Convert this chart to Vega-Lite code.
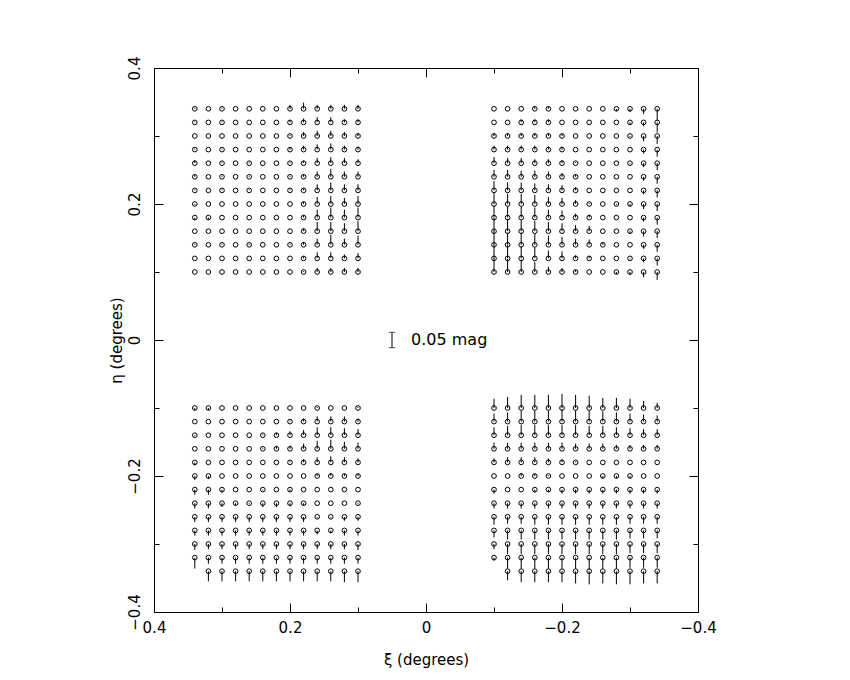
{
"$schema": "https://vega.github.io/schema/vega-lite/v6.json",
"width": 544, "height": 544,
"autosize": "none",
"padding": {"left": 154, "top": 68, "right": 152, "bottom": 68},
"background": "white",
"config": {
  "view": {"stroke": "black", "strokeWidth": 1},
  "font": "DejaVu Sans",
  "axis": {"domain": false, "grid": false, "tickColor": "black", "tickWidth": 1, "labelColor": "black", "titleColor": "black", "labelFont": "DejaVu Sans", "labelFontSize": 15, "titleFont": "DejaVu Sans", "titleFontSize": 15, "titleFontWeight": "normal", "labelOverlap": false, "labelFlush": false}
},
"datasets": {
"vec": [
{"xi":0.34,"eta":0.34,"dm":0.003},{"xi":0.32,"eta":0.34,"dm":0},{"xi":0.30,"eta":0.34,"dm":0.003},{"xi":0.28,"eta":0.34,"dm":0},{"xi":0.26,"eta":0.34,"dm":0},{"xi":0.24,"eta":0.34,"dm":0},{"xi":0.22,"eta":0.34,"dm":0},{"xi":0.20,"eta":0.34,"dm":0.013},{"xi":0.18,"eta":0.34,"dm":0.02},{"xi":0.16,"eta":0.34,"dm":0.013},{"xi":0.14,"eta":0.34,"dm":0.013},{"xi":0.12,"eta":0.34,"dm":0.013},{"xi":0.10,"eta":0.34,"dm":0.013},
{"xi":0.34,"eta":0.32,"dm":0.003},{"xi":0.32,"eta":0.32,"dm":0},{"xi":0.30,"eta":0.32,"dm":0.003},{"xi":0.28,"eta":0.32,"dm":0},{"xi":0.26,"eta":0.32,"dm":0},{"xi":0.24,"eta":0.32,"dm":0},{"xi":0.22,"eta":0.32,"dm":0},{"xi":0.20,"eta":0.32,"dm":0.007},{"xi":0.18,"eta":0.32,"dm":0.013},{"xi":0.16,"eta":0.32,"dm":0.017},{"xi":0.14,"eta":0.32,"dm":0.017},{"xi":0.12,"eta":0.32,"dm":0.01},{"xi":0.10,"eta":0.32,"dm":0.01},
{"xi":0.34,"eta":0.30,"dm":0},{"xi":0.32,"eta":0.30,"dm":0},{"xi":0.30,"eta":0.30,"dm":0},{"xi":0.28,"eta":0.30,"dm":0},{"xi":0.26,"eta":0.30,"dm":0},{"xi":0.24,"eta":0.30,"dm":0},{"xi":0.22,"eta":0.30,"dm":0},{"xi":0.20,"eta":0.30,"dm":0.003},{"xi":0.18,"eta":0.30,"dm":0.013},{"xi":0.16,"eta":0.30,"dm":0.017},{"xi":0.14,"eta":0.30,"dm":0.017},{"xi":0.12,"eta":0.30,"dm":0.013},{"xi":0.10,"eta":0.30,"dm":0.01},
{"xi":0.34,"eta":0.28,"dm":0.003},{"xi":0.32,"eta":0.28,"dm":0},{"xi":0.30,"eta":0.28,"dm":0.003},{"xi":0.28,"eta":0.28,"dm":0},{"xi":0.26,"eta":0.28,"dm":0},{"xi":0.24,"eta":0.28,"dm":0},{"xi":0.22,"eta":0.28,"dm":0},{"xi":0.20,"eta":0.28,"dm":0.007},{"xi":0.18,"eta":0.28,"dm":0.013},{"xi":0.16,"eta":0.28,"dm":0.017},{"xi":0.14,"eta":0.28,"dm":0.02},{"xi":0.12,"eta":0.28,"dm":0.013},{"xi":0.10,"eta":0.28,"dm":0.01},
{"xi":0.34,"eta":0.26,"dm":0.01},{"xi":0.32,"eta":0.26,"dm":0},{"xi":0.30,"eta":0.26,"dm":0.003},{"xi":0.28,"eta":0.26,"dm":0},{"xi":0.26,"eta":0.26,"dm":0.003},{"xi":0.24,"eta":0.26,"dm":0},{"xi":0.22,"eta":0.26,"dm":0},{"xi":0.20,"eta":0.26,"dm":0.003},{"xi":0.18,"eta":0.26,"dm":0.007},{"xi":0.16,"eta":0.26,"dm":0.017},{"xi":0.14,"eta":0.26,"dm":0.02},{"xi":0.12,"eta":0.26,"dm":0.017},{"xi":0.10,"eta":0.26,"dm":0.013},
{"xi":0.34,"eta":0.24,"dm":0.007},{"xi":0.32,"eta":0.24,"dm":0},{"xi":0.30,"eta":0.24,"dm":0.003},{"xi":0.28,"eta":0.24,"dm":0},{"xi":0.26,"eta":0.24,"dm":0.003},{"xi":0.24,"eta":0.24,"dm":0},{"xi":0.22,"eta":0.24,"dm":0},{"xi":0.20,"eta":0.24,"dm":0.003},{"xi":0.18,"eta":0.24,"dm":0.007},{"xi":0.16,"eta":0.24,"dm":0.017},{"xi":0.14,"eta":0.24,"dm":0.026},{"xi":0.12,"eta":0.24,"dm":0.017},{"xi":0.10,"eta":0.24,"dm":0.017},
{"xi":0.34,"eta":0.22,"dm":0.003},{"xi":0.32,"eta":0.22,"dm":0},{"xi":0.30,"eta":0.22,"dm":0.003},{"xi":0.28,"eta":0.22,"dm":0},{"xi":0.26,"eta":0.22,"dm":0.003},{"xi":0.24,"eta":0.22,"dm":0},{"xi":0.22,"eta":0.22,"dm":0},{"xi":0.20,"eta":0.22,"dm":0.003},{"xi":0.18,"eta":0.22,"dm":0.007},{"xi":0.16,"eta":0.22,"dm":0.02},{"xi":0.14,"eta":0.22,"dm":0.026},{"xi":0.12,"eta":0.22,"dm":0.02},{"xi":0.10,"eta":0.22,"dm":0.02},
{"xi":0.34,"eta":0.20,"dm":-0.003},{"xi":0.32,"eta":0.20,"dm":0},{"xi":0.30,"eta":0.20,"dm":0},{"xi":0.28,"eta":0.20,"dm":0},{"xi":0.26,"eta":0.20,"dm":0},{"xi":0.24,"eta":0.20,"dm":0},{"xi":0.22,"eta":0.20,"dm":0},{"xi":0.20,"eta":0.20,"dm":0},{"xi":0.18,"eta":0.20,"dm":0.007},{"xi":0.16,"eta":0.20,"dm":0.023},{"xi":0.14,"eta":0.20,"dm":0.026},{"xi":0.12,"eta":0.20,"dm":0.02},{"xi":0.10,"eta":0.20,"dm":0.026},
{"xi":0.34,"eta":0.18,"dm":-0.007},{"xi":0.32,"eta":0.18,"dm":-0.007},{"xi":0.30,"eta":0.18,"dm":0},{"xi":0.28,"eta":0.18,"dm":0},{"xi":0.26,"eta":0.18,"dm":0},{"xi":0.24,"eta":0.18,"dm":0},{"xi":0.22,"eta":0.18,"dm":0},{"xi":0.20,"eta":0.18,"dm":0},{"xi":0.18,"eta":0.18,"dm":0.007},{"xi":0.16,"eta":0.18,"dm":0.026},{"xi":0.14,"eta":0.18,"dm":0.033},{"xi":0.12,"eta":0.18,"dm":0.026},{"xi":0.10,"eta":0.18,"dm":0.033},
{"xi":0.34,"eta":0.16,"dm":0},{"xi":0.32,"eta":0.16,"dm":0},{"xi":0.30,"eta":0.16,"dm":0},{"xi":0.28,"eta":0.16,"dm":0},{"xi":0.26,"eta":0.16,"dm":0},{"xi":0.24,"eta":0.16,"dm":0},{"xi":0.22,"eta":0.16,"dm":0},{"xi":0.20,"eta":0.16,"dm":0},{"xi":0.18,"eta":0.16,"dm":0.01},{"xi":0.16,"eta":0.16,"dm":0.03},{"xi":0.14,"eta":0.16,"dm":0.03},{"xi":0.12,"eta":0.16,"dm":0.026},{"xi":0.10,"eta":0.16,"dm":0.033},
{"xi":0.34,"eta":0.14,"dm":0.003},{"xi":0.32,"eta":0.14,"dm":0},{"xi":0.30,"eta":0.14,"dm":0.003},{"xi":0.28,"eta":0.14,"dm":0},{"xi":0.26,"eta":0.14,"dm":0.003},{"xi":0.24,"eta":0.14,"dm":0},{"xi":0.22,"eta":0.14,"dm":0},{"xi":0.20,"eta":0.14,"dm":0.003},{"xi":0.18,"eta":0.14,"dm":0.01},{"xi":0.16,"eta":0.14,"dm":0.02},{"xi":0.14,"eta":0.14,"dm":0.033},{"xi":0.12,"eta":0.14,"dm":0.02},{"xi":0.10,"eta":0.14,"dm":0.03},
{"xi":0.34,"eta":0.12,"dm":0},{"xi":0.32,"eta":0.12,"dm":0},{"xi":0.30,"eta":0.12,"dm":0},{"xi":0.28,"eta":0.12,"dm":0},{"xi":0.26,"eta":0.12,"dm":0},{"xi":0.24,"eta":0.12,"dm":0},{"xi":0.22,"eta":0.12,"dm":0},{"xi":0.20,"eta":0.12,"dm":0},{"xi":0.18,"eta":0.12,"dm":0.007},{"xi":0.16,"eta":0.12,"dm":0.02},{"xi":0.14,"eta":0.12,"dm":0.02},{"xi":0.12,"eta":0.12,"dm":0.013},{"xi":0.10,"eta":0.12,"dm":0.017},
{"xi":0.34,"eta":0.10,"dm":0},{"xi":0.32,"eta":0.10,"dm":0},{"xi":0.30,"eta":0.10,"dm":0},{"xi":0.28,"eta":0.10,"dm":0},{"xi":0.26,"eta":0.10,"dm":0},{"xi":0.24,"eta":0.10,"dm":0},{"xi":0.22,"eta":0.10,"dm":0},{"xi":0.20,"eta":0.10,"dm":0},{"xi":0.18,"eta":0.10,"dm":0.003},{"xi":0.16,"eta":0.10,"dm":0.013},{"xi":0.14,"eta":0.10,"dm":0.013},{"xi":0.12,"eta":0.10,"dm":0.013},{"xi":0.10,"eta":0.10,"dm":0.013},

{"xi":-0.10,"eta":0.34,"dm":0},{"xi":-0.12,"eta":0.34,"dm":0},{"xi":-0.14,"eta":0.34,"dm":0},{"xi":-0.16,"eta":0.34,"dm":0.007},{"xi":-0.18,"eta":0.34,"dm":0.007},{"xi":-0.20,"eta":0.34,"dm":0},{"xi":-0.22,"eta":0.34,"dm":0},{"xi":-0.24,"eta":0.34,"dm":0},{"xi":-0.26,"eta":0.34,"dm":0},{"xi":-0.28,"eta":0.34,"dm":-0.007},{"xi":-0.30,"eta":0.34,"dm":-0.01},{"xi":-0.32,"eta":0.34,"dm":-0.017},{"xi":-0.34,"eta":0.34,"dm":-0.04},
{"xi":-0.10,"eta":0.32,"dm":0},{"xi":-0.12,"eta":0.32,"dm":0},{"xi":-0.14,"eta":0.32,"dm":0.01},{"xi":-0.16,"eta":0.32,"dm":0.01},{"xi":-0.18,"eta":0.32,"dm":0.01},{"xi":-0.20,"eta":0.32,"dm":0},{"xi":-0.22,"eta":0.32,"dm":0},{"xi":-0.24,"eta":0.32,"dm":0},{"xi":-0.26,"eta":0.32,"dm":0},{"xi":-0.28,"eta":0.32,"dm":0},{"xi":-0.30,"eta":0.32,"dm":-0.007},{"xi":-0.32,"eta":0.32,"dm":-0.013},{"xi":-0.34,"eta":0.32,"dm":-0.033},
{"xi":-0.10,"eta":0.30,"dm":0.01},{"xi":-0.12,"eta":0.30,"dm":0.01},{"xi":-0.14,"eta":0.30,"dm":0.01},{"xi":-0.16,"eta":0.30,"dm":0.01},{"xi":-0.18,"eta":0.30,"dm":0.01},{"xi":-0.20,"eta":0.30,"dm":0.007},{"xi":-0.22,"eta":0.30,"dm":0},{"xi":-0.24,"eta":0.30,"dm":0},{"xi":-0.26,"eta":0.30,"dm":0},{"xi":-0.28,"eta":0.30,"dm":0},{"xi":-0.30,"eta":0.30,"dm":-0.003},{"xi":-0.32,"eta":0.30,"dm":-0.017},{"xi":-0.34,"eta":0.30,"dm":-0.026},
{"xi":-0.10,"eta":0.28,"dm":0.013},{"xi":-0.12,"eta":0.28,"dm":0.013},{"xi":-0.14,"eta":0.28,"dm":0.013},{"xi":-0.16,"eta":0.28,"dm":0.013},{"xi":-0.18,"eta":0.28,"dm":0.01},{"xi":-0.20,"eta":0.28,"dm":0.01},{"xi":-0.22,"eta":0.28,"dm":0},{"xi":-0.24,"eta":0.28,"dm":0},{"xi":-0.26,"eta":0.28,"dm":0},{"xi":-0.28,"eta":0.28,"dm":0},{"xi":-0.30,"eta":0.28,"dm":0},{"xi":-0.32,"eta":0.28,"dm":-0.013},{"xi":-0.34,"eta":0.28,"dm":-0.023},
{"xi":-0.10,"eta":0.26,"dm":0.02},{"xi":-0.12,"eta":0.26,"dm":0.017},{"xi":-0.14,"eta":0.26,"dm":0.017},{"xi":-0.16,"eta":0.26,"dm":0.013},{"xi":-0.18,"eta":0.26,"dm":0.013},{"xi":-0.20,"eta":0.26,"dm":0.01},{"xi":-0.22,"eta":0.26,"dm":0.003},{"xi":-0.24,"eta":0.26,"dm":0},{"xi":-0.26,"eta":0.26,"dm":0},{"xi":-0.28,"eta":0.26,"dm":0},{"xi":-0.30,"eta":0.26,"dm":-0.003},{"xi":-0.32,"eta":0.26,"dm":-0.013},{"xi":-0.34,"eta":0.26,"dm":-0.023},
{"xi":-0.10,"eta":0.24,"dm":0.023},{"xi":-0.12,"eta":0.24,"dm":0.023},{"xi":-0.14,"eta":0.24,"dm":0.02},{"xi":-0.16,"eta":0.24,"dm":0.02},{"xi":-0.18,"eta":0.24,"dm":0.017},{"xi":-0.20,"eta":0.24,"dm":0.013},{"xi":-0.22,"eta":0.24,"dm":0.007},{"xi":-0.24,"eta":0.24,"dm":0},{"xi":-0.26,"eta":0.24,"dm":0},{"xi":-0.28,"eta":0.24,"dm":0},{"xi":-0.30,"eta":0.24,"dm":0},{"xi":-0.32,"eta":0.24,"dm":-0.013},{"xi":-0.34,"eta":0.24,"dm":-0.023},
{"xi":-0.10,"eta":0.22,"dm":0.03},{"xi":-0.12,"eta":0.22,"dm":0.026},{"xi":-0.14,"eta":0.22,"dm":0.026},{"xi":-0.16,"eta":0.22,"dm":0.023},{"xi":-0.18,"eta":0.22,"dm":0.02},{"xi":-0.20,"eta":0.22,"dm":0.017},{"xi":-0.22,"eta":0.22,"dm":0.01},{"xi":-0.24,"eta":0.22,"dm":0},{"xi":-0.26,"eta":0.22,"dm":0},{"xi":-0.28,"eta":0.22,"dm":0},{"xi":-0.30,"eta":0.22,"dm":0},{"xi":-0.32,"eta":0.22,"dm":-0.013},{"xi":-0.34,"eta":0.22,"dm":-0.023},
{"xi":-0.10,"eta":0.20,"dm":0.036},{"xi":-0.12,"eta":0.20,"dm":0.033},{"xi":-0.14,"eta":0.20,"dm":0.033},{"xi":-0.16,"eta":0.20,"dm":0.03},{"xi":-0.18,"eta":0.20,"dm":0.023},{"xi":-0.20,"eta":0.20,"dm":0.02},{"xi":-0.22,"eta":0.20,"dm":0.013},{"xi":-0.24,"eta":0.20,"dm":0.003},{"xi":-0.26,"eta":0.20,"dm":0},{"xi":-0.28,"eta":0.20,"dm":-0.003},{"xi":-0.30,"eta":0.20,"dm":-0.007},{"xi":-0.32,"eta":0.20,"dm":-0.017},{"xi":-0.34,"eta":0.20,"dm":-0.023},
{"xi":-0.10,"eta":0.18,"dm":0.04},{"xi":-0.12,"eta":0.18,"dm":0.036},{"xi":-0.14,"eta":0.18,"dm":0.036},{"xi":-0.16,"eta":0.18,"dm":0.033},{"xi":-0.18,"eta":0.18,"dm":0.026},{"xi":-0.20,"eta":0.18,"dm":0.023},{"xi":-0.22,"eta":0.18,"dm":0.013},{"xi":-0.24,"eta":0.18,"dm":0.01},{"xi":-0.26,"eta":0.18,"dm":0},{"xi":-0.28,"eta":0.18,"dm":0},{"xi":-0.30,"eta":0.18,"dm":0},{"xi":-0.32,"eta":0.18,"dm":-0.013},{"xi":-0.34,"eta":0.18,"dm":-0.023},
{"xi":-0.10,"eta":0.16,"dm":0.043},{"xi":-0.12,"eta":0.16,"dm":0.04},{"xi":-0.14,"eta":0.16,"dm":0.036},{"xi":-0.16,"eta":0.16,"dm":0.033},{"xi":-0.18,"eta":0.16,"dm":0.03},{"xi":-0.20,"eta":0.16,"dm":0.026},{"xi":-0.22,"eta":0.16,"dm":0.02},{"xi":-0.24,"eta":0.16,"dm":0.017},{"xi":-0.26,"eta":0.16,"dm":0},{"xi":-0.28,"eta":0.16,"dm":0},{"xi":-0.30,"eta":0.16,"dm":-0.007},{"xi":-0.32,"eta":0.16,"dm":-0.017},{"xi":-0.34,"eta":0.16,"dm":-0.023},
{"xi":-0.10,"eta":0.14,"dm":0.046},{"xi":-0.12,"eta":0.14,"dm":0.04},{"xi":-0.14,"eta":0.14,"dm":0.04},{"xi":-0.16,"eta":0.14,"dm":0.036},{"xi":-0.18,"eta":0.14,"dm":0.03},{"xi":-0.20,"eta":0.14,"dm":0.026},{"xi":-0.22,"eta":0.14,"dm":0.02},{"xi":-0.24,"eta":0.14,"dm":0.017},{"xi":-0.26,"eta":0.14,"dm":0.007},{"xi":-0.28,"eta":0.14,"dm":0},{"xi":-0.30,"eta":0.14,"dm":0},{"xi":-0.32,"eta":0.14,"dm":-0.013},{"xi":-0.34,"eta":0.14,"dm":-0.023},
{"xi":-0.10,"eta":0.12,"dm":0.046},{"xi":-0.12,"eta":0.12,"dm":0.043},{"xi":-0.14,"eta":0.12,"dm":0.04},{"xi":-0.16,"eta":0.12,"dm":0.036},{"xi":-0.18,"eta":0.12,"dm":0.026},{"xi":-0.20,"eta":0.12,"dm":0.023},{"xi":-0.22,"eta":0.12,"dm":0.01},{"xi":-0.24,"eta":0.12,"dm":0.007},{"xi":-0.26,"eta":0.12,"dm":0},{"xi":-0.28,"eta":0.12,"dm":0},{"xi":-0.30,"eta":0.12,"dm":-0.003},{"xi":-0.32,"eta":0.12,"dm":-0.013},{"xi":-0.34,"eta":0.12,"dm":-0.023},
{"xi":-0.10,"eta":0.10,"dm":0.046},{"xi":-0.12,"eta":0.10,"dm":0.043},{"xi":-0.14,"eta":0.10,"dm":0.04},{"xi":-0.16,"eta":0.10,"dm":0.033},{"xi":-0.18,"eta":0.10,"dm":0.017},{"xi":-0.20,"eta":0.10,"dm":0.013},{"xi":-0.22,"eta":0.10,"dm":0.007},{"xi":-0.24,"eta":0.10,"dm":0},{"xi":-0.26,"eta":0.10,"dm":0},{"xi":-0.28,"eta":0.10,"dm":-0.007},{"xi":-0.30,"eta":0.10,"dm":-0.01},{"xi":-0.32,"eta":0.10,"dm":-0.017},{"xi":-0.34,"eta":0.10,"dm":-0.026},

{"xi":0.34,"eta":-0.10,"dm":-0.007},{"xi":0.32,"eta":-0.10,"dm":-0.007},{"xi":0.30,"eta":-0.10,"dm":0},{"xi":0.28,"eta":-0.10,"dm":0},{"xi":0.26,"eta":-0.10,"dm":0},{"xi":0.24,"eta":-0.10,"dm":0},{"xi":0.22,"eta":-0.10,"dm":0},{"xi":0.20,"eta":-0.10,"dm":0},{"xi":0.18,"eta":-0.10,"dm":0},{"xi":0.16,"eta":-0.10,"dm":0.003},{"xi":0.14,"eta":-0.10,"dm":0},{"xi":0.12,"eta":-0.10,"dm":0},{"xi":0.10,"eta":-0.10,"dm":0.003},
{"xi":0.34,"eta":-0.12,"dm":0},{"xi":0.32,"eta":-0.12,"dm":0},{"xi":0.30,"eta":-0.12,"dm":0},{"xi":0.28,"eta":-0.12,"dm":0},{"xi":0.26,"eta":-0.12,"dm":0},{"xi":0.24,"eta":-0.12,"dm":0},{"xi":0.22,"eta":-0.12,"dm":0},{"xi":0.20,"eta":-0.12,"dm":0.003},{"xi":0.18,"eta":-0.12,"dm":0.01},{"xi":0.16,"eta":-0.12,"dm":0.017},{"xi":0.14,"eta":-0.12,"dm":0.017},{"xi":0.12,"eta":-0.12,"dm":0.017},{"xi":0.10,"eta":-0.12,"dm":0.01},
{"xi":0.34,"eta":-0.14,"dm":-0.003},{"xi":0.32,"eta":-0.14,"dm":0},{"xi":0.30,"eta":-0.14,"dm":0},{"xi":0.28,"eta":-0.14,"dm":0},{"xi":0.26,"eta":-0.14,"dm":0},{"xi":0.24,"eta":-0.14,"dm":0.003},{"xi":0.22,"eta":-0.14,"dm":0.007},{"xi":0.20,"eta":-0.14,"dm":0.013},{"xi":0.18,"eta":-0.14,"dm":0.017},{"xi":0.16,"eta":-0.14,"dm":0.026},{"xi":0.14,"eta":-0.14,"dm":0.026},{"xi":0.12,"eta":-0.14,"dm":0.023},{"xi":0.10,"eta":-0.14,"dm":0.02},
{"xi":0.34,"eta":-0.16,"dm":0},{"xi":0.32,"eta":-0.16,"dm":0},{"xi":0.30,"eta":-0.16,"dm":0},{"xi":0.28,"eta":-0.16,"dm":0},{"xi":0.26,"eta":-0.16,"dm":0},{"xi":0.24,"eta":-0.16,"dm":0.003},{"xi":0.22,"eta":-0.16,"dm":0.01},{"xi":0.20,"eta":-0.16,"dm":0.01},{"xi":0.18,"eta":-0.16,"dm":0.017},{"xi":0.16,"eta":-0.16,"dm":0.026},{"xi":0.14,"eta":-0.16,"dm":0.03},{"xi":0.12,"eta":-0.16,"dm":0.023},{"xi":0.10,"eta":-0.16,"dm":0.02},
{"xi":0.34,"eta":-0.18,"dm":-0.01},{"xi":0.32,"eta":-0.18,"dm":0},{"xi":0.30,"eta":-0.18,"dm":0},{"xi":0.28,"eta":-0.18,"dm":0},{"xi":0.26,"eta":-0.18,"dm":0},{"xi":0.24,"eta":-0.18,"dm":0},{"xi":0.22,"eta":-0.18,"dm":0},{"xi":0.20,"eta":-0.18,"dm":0.003},{"xi":0.18,"eta":-0.18,"dm":0.01},{"xi":0.16,"eta":-0.18,"dm":0.017},{"xi":0.14,"eta":-0.18,"dm":0.02},{"xi":0.12,"eta":-0.18,"dm":0.017},{"xi":0.10,"eta":-0.18,"dm":0.013},
{"xi":0.34,"eta":-0.20,"dm":-0.013},{"xi":0.32,"eta":-0.20,"dm":-0.01},{"xi":0.30,"eta":-0.20,"dm":0},{"xi":0.28,"eta":-0.20,"dm":0},{"xi":0.26,"eta":-0.20,"dm":0},{"xi":0.24,"eta":-0.20,"dm":0},{"xi":0.22,"eta":-0.20,"dm":0},{"xi":0.20,"eta":-0.20,"dm":0},{"xi":0.18,"eta":-0.20,"dm":0},{"xi":0.16,"eta":-0.20,"dm":0.007},{"xi":0.14,"eta":-0.20,"dm":0.01},{"xi":0.12,"eta":-0.20,"dm":0.007},{"xi":0.10,"eta":-0.20,"dm":0.007},
{"xi":0.34,"eta":-0.22,"dm":-0.017},{"xi":0.32,"eta":-0.22,"dm":-0.017},{"xi":0.30,"eta":-0.22,"dm":-0.01},{"xi":0.28,"eta":-0.22,"dm":0},{"xi":0.26,"eta":-0.22,"dm":0},{"xi":0.24,"eta":-0.22,"dm":-0.003},{"xi":0.22,"eta":-0.22,"dm":0},{"xi":0.20,"eta":-0.22,"dm":-0.007},{"xi":0.18,"eta":-0.22,"dm":0},{"xi":0.16,"eta":-0.22,"dm":0},{"xi":0.14,"eta":-0.22,"dm":0},{"xi":0.12,"eta":-0.22,"dm":0},{"xi":0.10,"eta":-0.22,"dm":0},
{"xi":0.34,"eta":-0.24,"dm":-0.017},{"xi":0.32,"eta":-0.24,"dm":-0.017},{"xi":0.30,"eta":-0.24,"dm":-0.013},{"xi":0.28,"eta":-0.24,"dm":-0.007},{"xi":0.26,"eta":-0.24,"dm":-0.003},{"xi":0.24,"eta":-0.24,"dm":-0.013},{"xi":0.22,"eta":-0.24,"dm":-0.013},{"xi":0.20,"eta":-0.24,"dm":-0.01},{"xi":0.18,"eta":-0.24,"dm":-0.007},{"xi":0.16,"eta":-0.24,"dm":0},{"xi":0.14,"eta":-0.24,"dm":0},{"xi":0.12,"eta":-0.24,"dm":0},{"xi":0.10,"eta":-0.24,"dm":-0.003},
{"xi":0.34,"eta":-0.26,"dm":-0.017},{"xi":0.32,"eta":-0.26,"dm":-0.017},{"xi":0.30,"eta":-0.26,"dm":-0.017},{"xi":0.28,"eta":-0.26,"dm":-0.017},{"xi":0.26,"eta":-0.26,"dm":-0.017},{"xi":0.24,"eta":-0.26,"dm":-0.017},{"xi":0.22,"eta":-0.26,"dm":-0.017},{"xi":0.20,"eta":-0.26,"dm":-0.017},{"xi":0.18,"eta":-0.26,"dm":-0.017},{"xi":0.16,"eta":-0.26,"dm":-0.003},{"xi":0.14,"eta":-0.26,"dm":-0.003},{"xi":0.12,"eta":-0.26,"dm":-0.013},{"xi":0.10,"eta":-0.26,"dm":-0.013},
{"xi":0.34,"eta":-0.28,"dm":-0.017},{"xi":0.32,"eta":-0.28,"dm":-0.017},{"xi":0.30,"eta":-0.28,"dm":-0.017},{"xi":0.28,"eta":-0.28,"dm":-0.017},{"xi":0.26,"eta":-0.28,"dm":-0.017},{"xi":0.24,"eta":-0.28,"dm":-0.017},{"xi":0.22,"eta":-0.28,"dm":-0.017},{"xi":0.20,"eta":-0.28,"dm":-0.017},{"xi":0.18,"eta":-0.28,"dm":-0.017},{"xi":0.16,"eta":-0.28,"dm":-0.013},{"xi":0.14,"eta":-0.28,"dm":-0.01},{"xi":0.12,"eta":-0.28,"dm":-0.017},{"xi":0.10,"eta":-0.28,"dm":-0.017},
{"xi":0.34,"eta":-0.30,"dm":-0.02},{"xi":0.32,"eta":-0.30,"dm":-0.017},{"xi":0.30,"eta":-0.30,"dm":-0.017},{"xi":0.28,"eta":-0.30,"dm":-0.017},{"xi":0.26,"eta":-0.30,"dm":-0.017},{"xi":0.24,"eta":-0.30,"dm":-0.017},{"xi":0.22,"eta":-0.30,"dm":-0.017},{"xi":0.20,"eta":-0.30,"dm":-0.017},{"xi":0.18,"eta":-0.30,"dm":-0.017},{"xi":0.16,"eta":-0.30,"dm":-0.017},{"xi":0.14,"eta":-0.30,"dm":-0.017},{"xi":0.12,"eta":-0.30,"dm":-0.017},{"xi":0.10,"eta":-0.30,"dm":-0.02},
{"xi":0.34,"eta":-0.32,"dm":-0.036},{"xi":0.32,"eta":-0.32,"dm":-0.02},{"xi":0.30,"eta":-0.32,"dm":-0.02},{"xi":0.28,"eta":-0.32,"dm":-0.02},{"xi":0.26,"eta":-0.32,"dm":-0.02},{"xi":0.24,"eta":-0.32,"dm":-0.02},{"xi":0.22,"eta":-0.32,"dm":-0.02},{"xi":0.20,"eta":-0.32,"dm":-0.02},{"xi":0.18,"eta":-0.32,"dm":-0.02},{"xi":0.16,"eta":-0.32,"dm":-0.02},{"xi":0.14,"eta":-0.32,"dm":-0.02},{"xi":0.12,"eta":-0.32,"dm":-0.02},{"xi":0.10,"eta":-0.32,"dm":-0.02},
{"xi":0.32,"eta":-0.34,"dm":-0.033},{"xi":0.30,"eta":-0.34,"dm":-0.033},{"xi":0.28,"eta":-0.34,"dm":-0.033},{"xi":0.26,"eta":-0.34,"dm":-0.033},{"xi":0.24,"eta":-0.34,"dm":-0.033},{"xi":0.22,"eta":-0.34,"dm":-0.033},{"xi":0.20,"eta":-0.34,"dm":-0.033},{"xi":0.18,"eta":-0.34,"dm":-0.033},{"xi":0.16,"eta":-0.34,"dm":-0.033},{"xi":0.14,"eta":-0.34,"dm":-0.033},{"xi":0.12,"eta":-0.34,"dm":-0.036},{"xi":0.10,"eta":-0.34,"dm":-0.036},

{"xi":-0.10,"eta":-0.10,"dm":0.03},{"xi":-0.12,"eta":-0.10,"dm":0.036},{"xi":-0.14,"eta":-0.10,"dm":0.043},{"xi":-0.16,"eta":-0.10,"dm":0.043},{"xi":-0.18,"eta":-0.10,"dm":0.043},{"xi":-0.20,"eta":-0.10,"dm":0.046},{"xi":-0.22,"eta":-0.10,"dm":0.043},{"xi":-0.24,"eta":-0.10,"dm":0.04},{"xi":-0.26,"eta":-0.10,"dm":0.033},{"xi":-0.28,"eta":-0.10,"dm":0.033},{"xi":-0.30,"eta":-0.10,"dm":0.03},{"xi":-0.32,"eta":-0.10,"dm":0.023},{"xi":-0.34,"eta":-0.10,"dm":0.017},
{"xi":-0.10,"eta":-0.12,"dm":0.026},{"xi":-0.12,"eta":-0.12,"dm":0.03},{"xi":-0.14,"eta":-0.12,"dm":0.036},{"xi":-0.16,"eta":-0.12,"dm":0.036},{"xi":-0.18,"eta":-0.12,"dm":0.036},{"xi":-0.20,"eta":-0.12,"dm":0.04},{"xi":-0.22,"eta":-0.12,"dm":0.036},{"xi":-0.24,"eta":-0.12,"dm":0.036},{"xi":-0.26,"eta":-0.12,"dm":0.033},{"xi":-0.28,"eta":-0.12,"dm":0.03},{"xi":-0.30,"eta":-0.12,"dm":0.026},{"xi":-0.32,"eta":-0.12,"dm":0.023},{"xi":-0.34,"eta":-0.12,"dm":0.02},
{"xi":-0.10,"eta":-0.14,"dm":0.026},{"xi":-0.12,"eta":-0.14,"dm":0.03},{"xi":-0.14,"eta":-0.14,"dm":0.033},{"xi":-0.16,"eta":-0.14,"dm":0.033},{"xi":-0.18,"eta":-0.14,"dm":0.033},{"xi":-0.20,"eta":-0.14,"dm":0.033},{"xi":-0.22,"eta":-0.14,"dm":0.033},{"xi":-0.24,"eta":-0.14,"dm":0.03},{"xi":-0.26,"eta":-0.14,"dm":0.03},{"xi":-0.28,"eta":-0.14,"dm":0.026},{"xi":-0.30,"eta":-0.14,"dm":0.023},{"xi":-0.32,"eta":-0.14,"dm":0.02},{"xi":-0.34,"eta":-0.14,"dm":0.02},
{"xi":-0.10,"eta":-0.16,"dm":0.02},{"xi":-0.12,"eta":-0.16,"dm":0.02},{"xi":-0.14,"eta":-0.16,"dm":0.02},{"xi":-0.16,"eta":-0.16,"dm":0.02},{"xi":-0.18,"eta":-0.16,"dm":0.02},{"xi":-0.20,"eta":-0.16,"dm":0.02},{"xi":-0.22,"eta":-0.16,"dm":0.017},{"xi":-0.24,"eta":-0.16,"dm":0.017},{"xi":-0.26,"eta":-0.16,"dm":0.017},{"xi":-0.28,"eta":-0.16,"dm":0.013},{"xi":-0.30,"eta":-0.16,"dm":0.013},{"xi":-0.32,"eta":-0.16,"dm":0.013},{"xi":-0.34,"eta":-0.16,"dm":0.013},
{"xi":-0.10,"eta":-0.18,"dm":0.013},{"xi":-0.12,"eta":-0.18,"dm":0.017},{"xi":-0.14,"eta":-0.18,"dm":0.017},{"xi":-0.16,"eta":-0.18,"dm":0.017},{"xi":-0.18,"eta":-0.18,"dm":0.013},{"xi":-0.20,"eta":-0.18,"dm":0.01},{"xi":-0.22,"eta":-0.18,"dm":0.003},{"xi":-0.24,"eta":-0.18,"dm":0},{"xi":-0.26,"eta":-0.18,"dm":0},{"xi":-0.28,"eta":-0.18,"dm":0},{"xi":-0.30,"eta":-0.18,"dm":0},{"xi":-0.32,"eta":-0.18,"dm":0},{"xi":-0.34,"eta":-0.18,"dm":0},
{"xi":-0.10,"eta":-0.20,"dm":0},{"xi":-0.12,"eta":-0.20,"dm":0},{"xi":-0.14,"eta":-0.20,"dm":0.01},{"xi":-0.16,"eta":-0.20,"dm":0.007},{"xi":-0.18,"eta":-0.20,"dm":0.003},{"xi":-0.20,"eta":-0.20,"dm":0},{"xi":-0.22,"eta":-0.20,"dm":0},{"xi":-0.24,"eta":-0.20,"dm":0},{"xi":-0.26,"eta":-0.20,"dm":-0.007},{"xi":-0.28,"eta":-0.20,"dm":-0.007},{"xi":-0.30,"eta":-0.20,"dm":-0.007},{"xi":-0.32,"eta":-0.20,"dm":0},{"xi":-0.34,"eta":-0.20,"dm":0},
{"xi":-0.10,"eta":-0.22,"dm":-0.013},{"xi":-0.12,"eta":-0.22,"dm":0},{"xi":-0.14,"eta":-0.22,"dm":0},{"xi":-0.16,"eta":-0.22,"dm":-0.01},{"xi":-0.18,"eta":-0.22,"dm":-0.007},{"xi":-0.20,"eta":-0.22,"dm":-0.013},{"xi":-0.22,"eta":-0.22,"dm":-0.013},{"xi":-0.24,"eta":-0.22,"dm":-0.013},{"xi":-0.26,"eta":-0.22,"dm":-0.013},{"xi":-0.28,"eta":-0.22,"dm":-0.013},{"xi":-0.30,"eta":-0.22,"dm":-0.013},{"xi":-0.32,"eta":-0.22,"dm":-0.013},{"xi":-0.34,"eta":-0.22,"dm":-0.013},
{"xi":-0.10,"eta":-0.24,"dm":-0.017},{"xi":-0.12,"eta":-0.24,"dm":-0.017},{"xi":-0.14,"eta":-0.24,"dm":-0.017},{"xi":-0.16,"eta":-0.24,"dm":-0.017},{"xi":-0.18,"eta":-0.24,"dm":-0.017},{"xi":-0.20,"eta":-0.24,"dm":-0.017},{"xi":-0.22,"eta":-0.24,"dm":-0.017},{"xi":-0.24,"eta":-0.24,"dm":-0.017},{"xi":-0.26,"eta":-0.24,"dm":-0.017},{"xi":-0.28,"eta":-0.24,"dm":-0.017},{"xi":-0.30,"eta":-0.24,"dm":-0.017},{"xi":-0.32,"eta":-0.24,"dm":-0.017},{"xi":-0.34,"eta":-0.24,"dm":-0.017},
{"xi":-0.10,"eta":-0.26,"dm":-0.026},{"xi":-0.12,"eta":-0.26,"dm":-0.023},{"xi":-0.14,"eta":-0.26,"dm":-0.023},{"xi":-0.16,"eta":-0.26,"dm":-0.026},{"xi":-0.18,"eta":-0.26,"dm":-0.026},{"xi":-0.20,"eta":-0.26,"dm":-0.026},{"xi":-0.22,"eta":-0.26,"dm":-0.026},{"xi":-0.24,"eta":-0.26,"dm":-0.026},{"xi":-0.26,"eta":-0.26,"dm":-0.026},{"xi":-0.28,"eta":-0.26,"dm":-0.026},{"xi":-0.30,"eta":-0.26,"dm":-0.023},{"xi":-0.32,"eta":-0.26,"dm":-0.023},{"xi":-0.34,"eta":-0.26,"dm":-0.023},
{"xi":-0.10,"eta":-0.28,"dm":-0.023},{"xi":-0.12,"eta":-0.28,"dm":-0.03},{"xi":-0.14,"eta":-0.28,"dm":-0.03},{"xi":-0.16,"eta":-0.28,"dm":-0.03},{"xi":-0.18,"eta":-0.28,"dm":-0.03},{"xi":-0.20,"eta":-0.28,"dm":-0.03},{"xi":-0.22,"eta":-0.28,"dm":-0.03},{"xi":-0.24,"eta":-0.28,"dm":-0.03},{"xi":-0.26,"eta":-0.28,"dm":-0.03},{"xi":-0.28,"eta":-0.28,"dm":-0.03},{"xi":-0.30,"eta":-0.28,"dm":-0.026},{"xi":-0.32,"eta":-0.28,"dm":-0.026},{"xi":-0.34,"eta":-0.28,"dm":-0.026},
{"xi":-0.10,"eta":-0.30,"dm":-0.017},{"xi":-0.12,"eta":-0.30,"dm":-0.033},{"xi":-0.14,"eta":-0.30,"dm":-0.033},{"xi":-0.16,"eta":-0.30,"dm":-0.033},{"xi":-0.18,"eta":-0.30,"dm":-0.033},{"xi":-0.20,"eta":-0.30,"dm":-0.033},{"xi":-0.22,"eta":-0.30,"dm":-0.033},{"xi":-0.24,"eta":-0.30,"dm":-0.033},{"xi":-0.26,"eta":-0.30,"dm":-0.033},{"xi":-0.28,"eta":-0.30,"dm":-0.033},{"xi":-0.30,"eta":-0.30,"dm":-0.03},{"xi":-0.32,"eta":-0.30,"dm":-0.03},{"xi":-0.34,"eta":-0.30,"dm":-0.03},
{"xi":-0.10,"eta":-0.32,"dm":-0.01},{"xi":-0.12,"eta":-0.32,"dm":-0.036},{"xi":-0.14,"eta":-0.32,"dm":-0.036},{"xi":-0.16,"eta":-0.32,"dm":-0.036},{"xi":-0.18,"eta":-0.32,"dm":-0.036},{"xi":-0.20,"eta":-0.32,"dm":-0.036},{"xi":-0.22,"eta":-0.32,"dm":-0.036},{"xi":-0.24,"eta":-0.32,"dm":-0.04},{"xi":-0.26,"eta":-0.32,"dm":-0.036},{"xi":-0.28,"eta":-0.32,"dm":-0.036},{"xi":-0.30,"eta":-0.32,"dm":-0.033},{"xi":-0.32,"eta":-0.32,"dm":-0.033},{"xi":-0.34,"eta":-0.32,"dm":-0.033},
{"xi":-0.12,"eta":-0.34,"dm":-0.03},{"xi":-0.14,"eta":-0.34,"dm":-0.036},{"xi":-0.16,"eta":-0.34,"dm":-0.036},{"xi":-0.18,"eta":-0.34,"dm":-0.036},{"xi":-0.20,"eta":-0.34,"dm":-0.036},{"xi":-0.22,"eta":-0.34,"dm":-0.04},{"xi":-0.24,"eta":-0.34,"dm":-0.043},{"xi":-0.26,"eta":-0.34,"dm":-0.04},{"xi":-0.28,"eta":-0.34,"dm":-0.043},{"xi":-0.30,"eta":-0.34,"dm":-0.043},{"xi":-0.32,"eta":-0.34,"dm":-0.04},{"xi":-0.34,"eta":-0.34,"dm":-0.04}
],
"bar": [{"xi": 0.05, "lo": -0.0113, "hi": 0.0113}],
"lab": [{"xi": 0.022, "eta": 0, "text": "0.05 mag"}]
},
"layer": [
  {
    "data": {"name": "vec"},
    "transform": [{"calculate": "datum.eta + datum.dm * 0.45", "as": "tip"}],
    "mark": {"type": "rule", "color": "black", "strokeWidth": 1},
    "encoding": {
      "x": {"field": "xi", "type": "quantitative", "scale": {"domain": [-0.4, 0.4], "reverse": true, "nice": false, "zero": false},
        "axis": {"orient": "bottom", "values": [-0.4,-0.3,-0.2,-0.1,0,0.1,0.2,0.3,0.4],
          "tickSize": {"condition": {"test": "round(datum.value*10) % 2 === 0", "value": -9}, "value": -5},
          "labelExpr": "round(datum.value*10) % 2 === 0 ? format(datum.value, '~g') : ''",
          "labelPadding": 17, "title": "ξ (degrees)", "titlePadding": 13}},
      "y": {"field": "eta", "type": "quantitative", "scale": {"domain": [-0.4, 0.4], "nice": false, "zero": false},
        "axis": {"orient": "left", "values": [-0.4,-0.3,-0.2,-0.1,0,0.1,0.2,0.3,0.4],
          "tickSize": {"condition": {"test": "round(datum.value*10) % 2 === 0", "value": -9}, "value": -5},
          "labelExpr": "round(datum.value*10) % 2 === 0 ? format(datum.value, '~g') : ''",
          "labelAngle": -90, "labelAlign": "center", "labelBaseline": "bottom",
          "labelPadding": 21, "title": "η (degrees)", "titlePadding": -1}},
      "y2": {"field": "tip"}
    }
  },
  {
    "data": {"name": "vec"},
    "mark": {"type": "point", "shape": "circle", "size": 22, "filled": false, "stroke": "black", "strokeWidth": 1, "opacity": 1},
    "encoding": {
      "x": {"field": "xi", "type": "quantitative",
        "axis": {"orient": "top", "values": [-0.4,-0.3,-0.2,-0.1,0,0.1,0.2,0.3,0.4],
          "tickSize": {"condition": {"test": "round(datum.value*10) % 2 === 0", "value": -9}, "value": -5},
          "labels": false, "title": null}},
      "y": {"field": "eta", "type": "quantitative",
        "axis": {"orient": "right", "values": [-0.4,-0.3,-0.2,-0.1,0,0.1,0.2,0.3,0.4],
          "tickSize": {"condition": {"test": "round(datum.value*10) % 2 === 0", "value": -9}, "value": -5},
          "labels": false, "title": null}}
    }
  },
  {
    "data": {"name": "bar"},
    "mark": {"type": "rule", "color": "black", "strokeWidth": 1},
    "encoding": {
      "x": {"field": "xi", "type": "quantitative", "axis": null},
      "y": {"field": "lo", "type": "quantitative", "axis": null},
      "y2": {"field": "hi"}
    }
  },
  {
    "data": {"name": "bar"},
    "mark": {"type": "tick", "orient": "horizontal", "color": "black", "size": 6, "thickness": 1},
    "encoding": {
      "x": {"field": "xi", "type": "quantitative", "axis": null},
      "y": {"field": "lo", "type": "quantitative", "axis": null}
    }
  },
  {
    "data": {"name": "bar"},
    "mark": {"type": "tick", "orient": "horizontal", "color": "black", "size": 6, "thickness": 1},
    "encoding": {
      "x": {"field": "xi", "type": "quantitative", "axis": null},
      "y": {"field": "hi", "type": "quantitative", "axis": null}
    }
  },
  {
    "data": {"name": "lab"},
    "mark": {"type": "text", "align": "left", "baseline": "middle", "font": "DejaVu Sans", "fontSize": 16, "color": "black"},
    "encoding": {
      "x": {"field": "xi", "type": "quantitative", "axis": null},
      "y": {"field": "eta", "type": "quantitative", "axis": null},
      "text": {"field": "text"}
    }
  }
],
"resolve": {"axis": {"x": "independent", "y": "independent"}}
}
